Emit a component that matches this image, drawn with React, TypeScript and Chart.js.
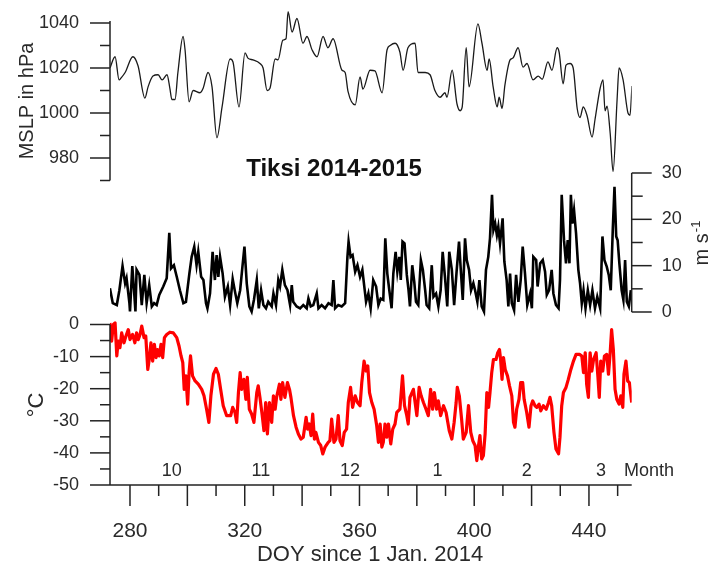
import React, { useEffect, useRef } from "react";
import { Chart, registerables } from "chart.js";

Chart.register(...registerables);

// ---------- data ----------
const mslpDoy = [273.0, 274.8, 276.2, 276.9, 278.3, 281.0, 282.8, 285.2, 286.3, 288.0, 289.8, 291.2, 292.9, 293.9, 294.6, 295.7, 296.7, 298.5, 299.2, 300.6, 302.0, 304.4, 305.5, 307.2, 308.6, 310.3, 312.1, 314.9, 315.9, 318.0, 320.1, 321.1, 322.9, 325.3, 326.4, 327.8, 328.8, 330.6, 331.6, 333.3, 334.4, 335.1, 336.5, 338.2, 340.3, 341.7, 343.5, 345.2, 347.3, 349.0, 350.8, 353.9, 355.0, 356.0, 358.5, 360.2, 361.2, 363.7, 365.4, 367.9, 369.6, 370.7, 372.4, 374.1, 375.2, 376.9, 379.4, 380.4, 382.9, 384.6, 386.3, 388.1, 389.8, 390.5, 392.3, 394.0, 395.1, 395.8, 397.2, 398.2, 401.3, 402.7, 404.5, 405.2, 406.6, 408.0, 408.7, 409.7, 410.7, 412.5, 413.5, 415.3, 417.0, 418.4, 420.5, 422.3, 423.7, 425.7, 427.1, 428.9, 429.6, 431.0, 432.0, 433.4, 434.5, 435.9, 436.9, 438.0, 439.3, 441.1, 442.1, 443.9, 444.9, 445.6, 446.3, 447.4, 448.4, 449.8, 450.5, 451.9, 453.6, 454.3, 455.0];
const mslpHpa = [1020, 1025, 1014.7, 1015.6, 1018, 1025, 1021, 1006.6, 1011.6, 1016.4, 1017, 1014.7, 1017, 1011, 1006, 1006, 1018, 1034, 1028, 1005, 1010, 1009, 1011, 1018, 1011.6, 989, 1002.7, 1024, 1022.7, 1002.7, 1026.7, 1024.4, 1023.6, 1022, 1020, 1010, 1011, 1024, 1023.6, 1032.4, 1033, 1045, 1036, 1042, 1031, 1034, 1028, 1025, 1034, 1029, 1033, 1019, 1018, 1009.6, 1003.6, 1016, 1010.6, 1019, 1018.7, 1009, 1028, 1030, 1031, 1027, 1019, 1029, 1031, 1018, 1018, 1017, 1010, 1007, 1009, 1007, 1019, 1004, 1001, 1002.6, 1029, 1011.6, 1039.6, 1031, 1019, 1024, 1011.6, 1002.7, 1007, 1002, 1012.4, 1023.6, 1024.4, 1029, 1020.4, 1022, 1014.7, 1016.4, 1015, 1022.7, 1019, 1029, 1027, 1013, 1021.3, 1022, 1020, 1002, 998, 1002.7, 999, 989.3, 997, 1011, 1014.7, 1001, 1003, 991, 974, 1005.8, 1020, 1014.7, 1000, 999, 1012];

const windDoy = [273.0, 274.0, 275.4, 276.3, 277.4, 278.3, 278.8, 279.8, 280.0, 280.8, 281.4, 281.9, 282.3, 283.3, 284.1, 285.0, 285.8, 286.7, 287.6, 288.4, 289.3, 290.2, 291.6, 292.8, 293.7, 294.3, 295.3, 296.3, 297.4, 298.6, 299.5, 300.7, 301.5, 302.4, 303.2, 303.8, 304.8, 305.6, 306.5, 307.0, 307.9, 308.8, 309.6, 310.2, 310.8, 311.4, 312.3, 313.1, 314.1, 314.9, 315.8, 316.6, 317.4, 318.4, 319.2, 319.9, 320.7, 321.6, 322.4, 323.2, 324.2, 324.9, 325.7, 326.5, 327.4, 328.2, 329.4, 330.0, 330.9, 331.7, 332.3, 333.1, 334.0, 334.9, 335.8, 336.4, 336.9, 338.1, 339.3, 340.4, 341.6, 342.2, 343.0, 343.9, 345.1, 345.7, 346.8, 348.0, 349.2, 350.3, 350.9, 351.5, 352.6, 353.8, 355.0, 355.8, 356.2, 356.9, 357.6, 358.5, 359.3, 360.2, 361.0, 362.3, 363.1, 363.9, 364.8, 365.8, 366.6, 367.4, 368.3, 369.0, 369.7, 370.4, 371.2, 371.8, 372.6, 373.2, 373.9, 374.4, 375.0, 375.7, 376.5, 377.1, 377.6, 378.4, 379.1, 379.7, 380.5, 381.4, 382.1, 382.9, 383.4, 384.3, 385.2, 385.8, 386.7, 387.5, 388.3, 389.0, 389.8, 390.6, 391.3, 392.2, 393.0, 393.9, 394.7, 395.4, 396.0, 396.8, 397.4, 398.2, 398.9, 399.7, 400.3, 401.1, 401.8, 402.6, 403.4, 404.1, 404.9, 405.5, 406.2, 406.7, 407.3, 407.9, 408.4, 409.0, 409.9, 410.5, 411.3, 411.9, 412.5, 413.1, 413.9, 414.6, 415.4, 416.2, 416.9, 417.7, 418.5, 419.5, 420.1, 420.6, 421.6, 422.1, 423.0, 423.9, 424.7, 425.3, 426.1, 427.0, 427.6, 428.5, 429.4, 429.9, 430.5, 431.3, 432.0, 432.6, 433.2, 433.7, 434.2, 434.8, 435.5, 436.3, 436.9, 437.5, 438.1, 438.8, 439.6, 440.4, 441.2, 442.1, 442.9, 443.9, 444.7, 445.4, 446.2, 446.9, 447.6, 448.3, 448.9, 449.5, 450.0, 450.6, 451.4, 452.0, 452.6, 453.2, 453.9, 454.6];
const windMs = [5.1, 1.9, 1.5, 4.7, 9.9, 6.2, 7.3, 1.9, 0.1, 9.9, 4.7, 0.1, 9.1, 8.0, 1.5, 8.0, 1.9, 5.8, 1.2, 1.9, 1.5, 3.7, 5.5, 7.3, 17.1, 9.4, 10.1, 7.6, 4.7, 1.9, 2.2, 8.3, 11.9, 14.1, 10.1, 13.0, 7.6, 6.9, 1.9, 0.8, 4.0, 13.0, 6.9, 12.3, 7.6, 11.9, 8.3, 3.3, 5.5, 1.5, 7.1, 4.4, 1.9, 4.7, 9.8, 14.1, 6.2, 1.2, 0.1, 2.6, 6.9, 0.8, 4.7, 1.5, 0.8, 2.2, 1.2, 4.0, 1.5, 6.9, 5.5, 9.1, 5.8, 4.7, 1.5, 5.8, 2.2, 1.2, 0.8, 1.5, 0.8, 2.9, 1.2, 1.5, 4.0, 0.8, 1.5, 0.8, 1.9, 1.5, 6.9, 0.8, 1.5, 1.2, 1.9, 11.9, 15.2, 11.9, 12.3, 8.7, 10.1, 7.6, 9.1, 2.2, 4.0, 0.8, 6.9, 5.5, 1.5, 2.9, 2.6, 15.9, 8.3, 4.7, 0.8, 8.3, 13.0, 8.7, 11.9, 6.9, 15.2, 14.8, 8.0, 4.7, 1.2, 10.1, 6.5, 2.2, 1.5, 11.2, 9.1, 4.7, 1.5, 0.8, 10.1, 3.3, 4.0, 1.2, 4.7, 13.0, 7.6, 1.2, 13.0, 9.1, 1.5, 9.1, 15.2, 8.3, 2.6, 15.9, 11.2, 9.1, 4.7, 6.2, 4.7, 2.2, 6.9, 1.2, 0.1, 9.1, 11.9, 15.9, 25.3, 17.7, 19.1, 16.6, 18.4, 14.8, 20.2, 10.9, 6.9, 1.2, 8.3, 1.9, 0.4, 8.0, 2.2, 6.9, 14.1, 8.3, 1.5, 4.0, 0.8, 11.9, 11.2, 5.5, 10.5, 11.2, 8.7, 3.7, 4.7, 9.1, 4.0, 1.5, 0.8, 6.9, 25.3, 15.5, 10.5, 15.5, 10.5, 25.3, 19.1, 22.0, 17.0, 9.1, 6.2, 1.9, 4.7, 0.8, 4.7, 1.5, 4.7, 0.8, 3.3, 0.8, 16.3, 11.2, 9.8, 8.0, 4.7, 17.7, 27.0, 16.3, 15.5, 10.5, 4.7, 2.6, 11.2, 2.2, 1.2, 4.7];

const tempDoy = [273.0, 273.6, 274.2, 274.8, 275.4, 275.9, 276.5, 277.1, 277.9, 278.6, 279.4, 280.0, 280.9, 281.7, 282.3, 282.9, 283.5, 284.1, 284.9, 285.5, 286.2, 286.7, 287.3, 287.9, 288.5, 289.1, 289.6, 290.2, 290.8, 291.4, 292.0, 292.8, 293.9, 295.1, 296.3, 297.1, 297.8, 298.4, 298.9, 299.5, 300.1, 300.6, 301.1, 301.8, 302.7, 303.8, 305.0, 305.8, 306.7, 307.5, 308.2, 309.1, 310.0, 310.8, 311.6, 312.5, 313.7, 315.1, 315.8, 316.6, 317.2, 317.8, 318.4, 318.9, 319.7, 320.4, 320.9, 321.6, 322.4, 323.2, 324.2, 324.7, 325.3, 326.1, 326.7, 327.3, 327.9, 328.6, 329.4, 330.0, 330.6, 331.1, 332.1, 332.6, 333.2, 334.0, 334.9, 335.6, 336.1, 337.0, 337.9, 338.7, 339.6, 340.4, 341.4, 341.9, 342.5, 343.1, 343.7, 344.3, 344.8, 345.7, 346.5, 347.2, 348.0, 349.1, 349.7, 350.3, 351.1, 351.8, 352.6, 353.2, 354.0, 354.7, 355.5, 356.1, 356.9, 357.6, 358.5, 359.3, 360.2, 360.8, 361.6, 362.3, 362.9, 363.5, 364.3, 365.1, 366.0, 366.6, 367.2, 367.8, 368.3, 368.9, 369.5, 370.1, 370.9, 371.6, 372.4, 373.0, 374.1, 375.0, 375.7, 376.5, 377.0, 377.6, 378.8, 379.4, 380.0, 380.8, 381.5, 382.3, 383.2, 384.0, 384.8, 385.5, 386.1, 386.9, 387.5, 388.3, 389.3, 390.2, 390.8, 391.3, 392.2, 393.0, 393.7, 394.1, 394.8, 395.6, 396.2, 397.2, 398.0, 398.8, 399.5, 400.3, 400.9, 401.5, 402.0, 402.6, 403.2, 403.8, 404.4, 405.0, 405.5, 406.1, 406.7, 407.6, 408.2, 408.8, 409.2, 409.7, 410.2, 410.8, 411.6, 412.3, 413.1, 413.7, 414.2, 414.8, 415.6, 416.2, 416.9, 417.4, 418.3, 419.1, 419.8, 420.4, 421.2, 421.8, 422.6, 423.2, 424.1, 425.1, 425.9, 426.4, 427.0, 427.8, 428.5, 429.4, 429.9, 430.5, 431.1, 432.0, 432.8, 433.7, 434.6, 435.5, 436.7, 437.5, 438.1, 438.7, 439.2, 439.8, 440.4, 441.0, 441.6, 442.5, 443.1, 443.6, 444.1, 444.8, 445.4, 446.2, 446.8, 447.4, 447.9, 448.5, 449.1, 449.7, 450.5, 451.1, 451.8, 452.2, 452.9, 453.5, 454.1, 454.9];
const tempC = [0.5, -5.2, 0, 0.5, -9.8, -5.2, -7.2, -2.6, -5.7, -3.6, -1.6, -4.7, -3.1, -5.7, -2.6, -4.7, -3.1, -0.5, -4.1, -3.6, -14.0, -10.9, -5.7, -11.4, -6.2, -10.3, -7.8, -9.8, -6.2, -10.3, -4.1, -3.1, -2.4, -2.6, -4.1, -6.7, -9.8, -11.9, -20.2, -16.0, -24.8, -15.0, -9.8, -16.0, -17.6, -18.6, -20.2, -22.2, -26.4, -30.5, -22.2, -15.5, -13.7, -15.5, -20.2, -25.3, -28.4, -28.4, -25.8, -27.4, -30.5, -21.2, -15.0, -20.2, -17.1, -23.3, -16.5, -26.4, -27.9, -30.5, -21.2, -19.1, -22.7, -28.4, -33.1, -24.3, -34.1, -24.3, -30.5, -22.2, -26.4, -22.7, -18.6, -23.3, -18.1, -22.7, -18.1, -20.2, -22.7, -28.4, -32.0, -34.1, -35.7, -35.1, -28.9, -32.6, -31.0, -34.6, -27.9, -35.7, -33.6, -36.7, -37.7, -40.3, -38.2, -36.7, -36.2, -29.5, -36.7, -35.7, -28.4, -36.2, -37.7, -33.6, -32.6, -24.3, -19.6, -25.8, -22.2, -24.3, -25.3, -18.1, -11.4, -14.5, -12.9, -21.2, -24.3, -26.4, -31.5, -36.7, -31.0, -38.2, -36.7, -31.0, -35.1, -31.0, -37.2, -32.6, -31.0, -27.4, -26.4, -16.0, -25.3, -28.4, -31.0, -22.7, -20.2, -24.3, -28.4, -19.6, -22.2, -24.3, -26.4, -28.4, -20.2, -26.4, -21.2, -26.4, -23.8, -28.4, -25.3, -27.4, -30.5, -33.1, -35.7, -30.5, -24.3, -19.6, -22.2, -29.5, -35.7, -33.6, -25.3, -33.6, -36.2, -37.7, -42.4, -37.7, -34.6, -41.9, -40.8, -34.1, -21.2, -25.8, -21.2, -15.0, -10.9, -10.9, -8.8, -7.8, -10.9, -17.1, -10.3, -14.0, -16.0, -19.1, -22.2, -30.5, -32.0, -26.4, -23.3, -18.1, -18.1, -23.3, -27.4, -32.0, -25.3, -23.8, -25.3, -25.8, -24.8, -26.9, -25.3, -26.4, -24.3, -22.7, -25.3, -33.6, -38.8, -40.3, -35.1, -25.3, -21.2, -19.6, -17.1, -14.0, -11.4, -9.3, -9.3, -9.8, -15.0, -8.8, -18.6, -22.7, -8.8, -14.5, -10.9, -8.8, -16.0, -22.7, -11.4, -14.5, -9.8, -9.3, -15.5, -8.8, -1.6, -7.8, -20.2, -23.3, -24.8, -22.2, -25.8, -15.5, -11.4, -17.6, -18.1, -24.3];

const monthLabels = ["10", "11", "12", "1", "2", "3"];
const monthDoy = [294.6, 325.6, 356.7, 387.2, 418.3, 444.2];
const xTickLabels = [280, 320, 360, 400, 440];
const mslpTickLabels = [980, 1000, 1020, 1040];
const windTickLabels = [0, 10, 20, 30];
const tempTickLabels = [0, -10, -20, -30, -40, -50];

const FONT = '"Liberation Sans", Arial, Helvetica, sans-serif';
const AXIS = "#222";
const TEXT = "#2a2a2a";

function pts(xs: number[], ys: number[]) {
  return xs.map((x, i) => ({ x, y: ys[i] }));
}

const decor = {
  id: "decor",
  afterDraw(chart: any) {
    const ctx = chart.ctx as CanvasRenderingContext2D;
    const sx = chart.scales.x;
    const sp = chart.scales.yP;
    const sw = chart.scales.yW;
    const st = chart.scales.yT;
    const xl = sx.left;
    const xr = sx.right;
    ctx.save();
    ctx.strokeStyle = AXIS;
    ctx.fillStyle = TEXT;
    ctx.lineWidth = 1.5;
    ctx.lineCap = "butt";
    const line = (x1: number, y1: number, x2: number, y2: number) => {
      ctx.beginPath();
      ctx.moveTo(x1, y1);
      ctx.lineTo(x2, y2);
      ctx.stroke();
    };

    // X axis
    const yb = st.getPixelForValue(-50);
    line(xl, yb, xr, yb);
    for (let v = 280; v <= 450; v += 10) {
      const x = sx.getPixelForValue(v);
      line(x, yb, x, yb + (v % 20 === 0 ? 21 : 11));
    }
    ctx.font = `21px ${FONT}`;
    ctx.textAlign = "center";
    ctx.textBaseline = "middle";
    xTickLabels.forEach((v) => ctx.fillText(String(v), sx.getPixelForValue(v), yb + 46));
    ctx.font = `22px ${FONT}`;
    ctx.fillText("DOY since 1 Jan. 2014", 370, yb + 70);

    // MSLP axis (left, top)
    line(xl, sp.getPixelForValue(1040) - 2, xl, sp.getPixelForValue(970));
    for (let v = 970; v <= 1040; v += 10) {
      const y = sp.getPixelForValue(v);
      line(xl - (v % 20 === 0 ? 20 : 10), y, xl, y);
    }
    ctx.font = `18px ${FONT}`;
    ctx.textAlign = "right";
    mslpTickLabels.forEach((v) => ctx.fillText(String(v), xl - 31, sp.getPixelForValue(v)));

    // Temperature axis (left, bottom)
    line(xl, st.getPixelForValue(0), xl, st.getPixelForValue(-50));
    for (let v = 0; v >= -50; v -= 5) {
      const y = st.getPixelForValue(v);
      line(xl - (v % 10 === 0 ? 20 : 10), y, xl, y);
    }
    tempTickLabels.forEach((v) => ctx.fillText(String(v), xl - 31, st.getPixelForValue(v)));

    // Wind axis (right, middle)
    line(xr, sw.getPixelForValue(30), xr, sw.getPixelForValue(0));
    for (let v = 0; v <= 30; v += 5) {
      const y = sw.getPixelForValue(v);
      line(xr, y, xr + (v % 10 === 0 ? 20 : 11), y);
    }
    ctx.textAlign = "left";
    windTickLabels.forEach((v) => ctx.fillText(String(v), xr + 30, sw.getPixelForValue(v)));

    // Month labels
    ctx.font = `18px ${FONT}`;
    ctx.textAlign = "center";
    monthLabels.forEach((m, i) => ctx.fillText(m, sx.getPixelForValue(monthDoy[i]), 471));
    ctx.textAlign = "left";
    ctx.fillText("Month", 624, 471);

    // Title
    ctx.fillStyle = "#111";
    ctx.font = `bold 24px ${FONT}`;
    ctx.textAlign = "center";
    ctx.fillText("Tiksi 2014-2015", 334, 169);
    ctx.fillStyle = TEXT;

    // Axis titles (rotated)
    ctx.textBaseline = "alphabetic";
    ctx.save();
    ctx.translate(33, 101);
    ctx.rotate(-Math.PI / 2);
    ctx.font = `20px ${FONT}`;
    ctx.textAlign = "center";
    ctx.fillText("MSLP in hPa", 0, 0);
    ctx.restore();

    ctx.save();
    ctx.translate(43, 405);
    ctx.rotate(-Math.PI / 2);
    ctx.font = `22px ${FONT}`;
    ctx.textAlign = "center";
    ctx.fillText("°C", 0, 0);
    ctx.restore();

    ctx.save();
    ctx.translate(708, 243);
    ctx.rotate(-Math.PI / 2);
    ctx.font = `20px ${FONT}`;
    const main = "m s";
    const wMain = ctx.measureText(main).width;
    ctx.font = `13px ${FONT}`;
    const sup = "-1";
    const wSup = ctx.measureText(sup).width;
    const start = -(wMain + wSup + 1) / 2;
    ctx.textAlign = "left";
    ctx.font = `20px ${FONT}`;
    ctx.fillText(main, start, 0);
    ctx.font = `13px ${FONT}`;
    ctx.fillText(sup, start + wMain + 1, -8);
    ctx.restore();

    ctx.restore();
  },
};

export default function App() {
  const ref = useRef<HTMLCanvasElement | null>(null);
  useEffect(() => {
    if (!ref.current) return;
    const chart = new Chart(ref.current, {
      type: "line",
      data: {
        datasets: [
          {
            data: pts(tempDoy, tempC),
            yAxisID: "yT",
            borderColor: "#ff0000",
            borderWidth: 3.2,
            pointRadius: 0,
            tension: 0,
            borderJoinStyle: "round",
          },
          {
            data: pts(windDoy, windMs),
            yAxisID: "yW",
            borderColor: "#000000",
            borderWidth: 2.6,
            pointRadius: 0,
            tension: 0,
            borderJoinStyle: "miter",
          },
          {
            data: pts(mslpDoy, mslpHpa),
            yAxisID: "yP",
            borderColor: "#1a1a1a",
            borderWidth: 1.3,
            pointRadius: 0,
            cubicInterpolationMode: "monotone",
          },
        ],
      },
      options: {
        animation: false,
        responsive: false,
        maintainAspectRatio: false,
        layout: { padding: { left: 110, right: 78.3, top: 5, bottom: 79 } },
        plugins: { legend: { display: false }, tooltip: { enabled: false } },
        scales: {
          x: { type: "linear", min: 273.03, max: 454.9, display: false },
          yP: { type: "linear", min: 834.67, max: 1048, display: false },
          yW: { type: "linear", min: -37.34, max: 66.26, display: false },
          yT: { type: "linear", min: -50, max: 99.53, display: false },
        },
      } as any,
      plugins: [decor],
    });
    return () => chart.destroy();
  }, []);
  return (
    <div style={{ position: "fixed", left: 0, top: 0, width: 710, height: 564, background: "#fff" }}>
      <canvas ref={ref} width={710} height={564} style={{ display: "block" }} />
    </div>
  );
}
